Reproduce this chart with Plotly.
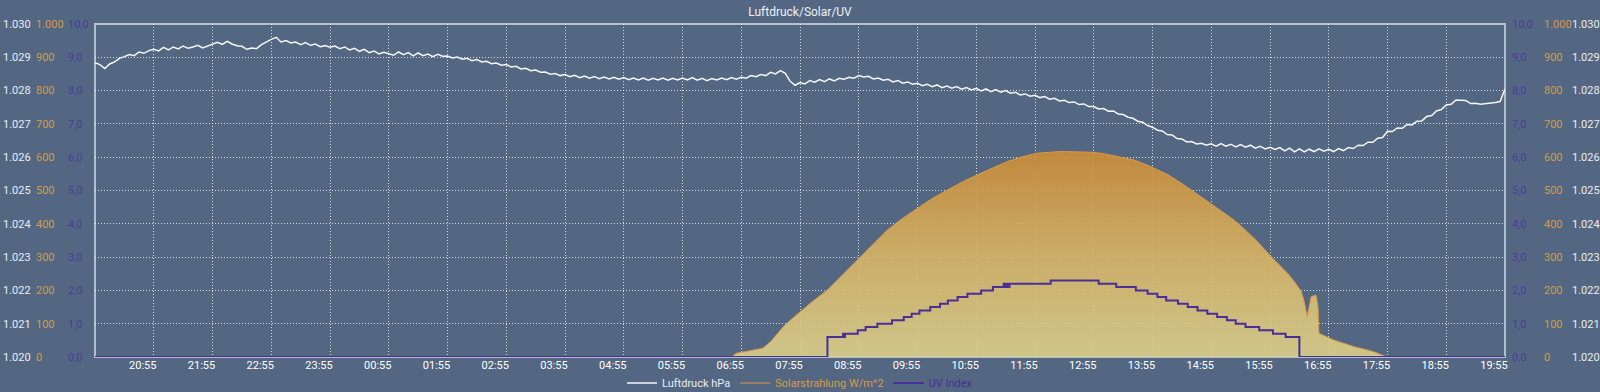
import pandas as pd
import plotly.graph_objects as go

# ---------------- data ----------------
D1 = "2024-06-20"
D2 = "2024-06-21"

# Luftdruck (hPa), every 5 minutes from 19:55 (day 1) to 19:55 (day 2)
pressure_start = f"{D1} 19:55"
pressure_hpa = [
    1028.84, 1028.78, 1028.66, 1028.80, 1028.86, 1028.97, 1029.02, 1029.08, 1029.05, 1029.16, 1029.12, 1029.20,
    1029.24, 1029.19, 1029.30, 1029.22, 1029.31, 1029.25, 1029.34, 1029.27, 1029.31, 1029.36, 1029.28, 1029.34,
    1029.38, 1029.45, 1029.39, 1029.48, 1029.40, 1029.35, 1029.33, 1029.24, 1029.28, 1029.26, 1029.38, 1029.47,
    1029.54, 1029.60, 1029.46, 1029.50, 1029.43, 1029.46, 1029.38, 1029.44, 1029.36, 1029.40, 1029.32, 1029.35,
    1029.30, 1029.34, 1029.26, 1029.31, 1029.22, 1029.27, 1029.18, 1029.24, 1029.14, 1029.19, 1029.10, 1029.15,
    1029.11, 1029.06, 1029.16, 1029.08, 1029.14, 1029.04, 1029.13, 1029.05, 1029.10, 1029.02, 1029.09, 1029.03,
    1029.04, 1028.98, 1029.01, 1028.94, 1028.97, 1028.90, 1028.93, 1028.86, 1028.88, 1028.81, 1028.83, 1028.76,
    1028.78, 1028.71, 1028.73, 1028.65, 1028.67, 1028.60, 1028.62, 1028.55, 1028.56, 1028.49, 1028.51, 1028.45,
    1028.48, 1028.42, 1028.46, 1028.39, 1028.44, 1028.37, 1028.42, 1028.36, 1028.41, 1028.35, 1028.40, 1028.34,
    1028.39, 1028.33, 1028.38, 1028.32, 1028.38, 1028.31, 1028.37, 1028.32, 1028.38, 1028.31, 1028.37, 1028.32,
    1028.38, 1028.32, 1028.39, 1028.31, 1028.37, 1028.30, 1028.36, 1028.32, 1028.38, 1028.33, 1028.39, 1028.34,
    1028.40, 1028.37, 1028.45, 1028.42, 1028.48, 1028.45, 1028.55, 1028.50, 1028.60, 1028.52, 1028.28, 1028.16,
    1028.24, 1028.20, 1028.30, 1028.25, 1028.33, 1028.27, 1028.35, 1028.29, 1028.37, 1028.34, 1028.40, 1028.37,
    1028.45, 1028.41, 1028.43, 1028.35, 1028.38, 1028.31, 1028.34, 1028.26, 1028.30, 1028.22, 1028.26, 1028.19,
    1028.22, 1028.15, 1028.19, 1028.12, 1028.17, 1028.09, 1028.14, 1028.07, 1028.12, 1028.04, 1028.09, 1028.02,
    1028.07, 1027.99, 1028.05, 1027.97, 1028.03, 1027.95, 1028.00, 1027.92, 1027.95, 1027.87, 1027.90, 1027.83,
    1027.86, 1027.79, 1027.82, 1027.74, 1027.77, 1027.69, 1027.71, 1027.64, 1027.66, 1027.58, 1027.60, 1027.52,
    1027.52, 1027.45, 1027.46, 1027.38, 1027.39, 1027.30, 1027.28, 1027.20, 1027.17, 1027.08, 1027.05, 1026.95,
    1026.90, 1026.81, 1026.79, 1026.68, 1026.67, 1026.56, 1026.55, 1026.46, 1026.47, 1026.40, 1026.42, 1026.36,
    1026.40, 1026.33, 1026.41, 1026.33, 1026.39, 1026.31, 1026.38, 1026.30, 1026.36, 1026.27, 1026.33, 1026.25,
    1026.30, 1026.23, 1026.29, 1026.19, 1026.27, 1026.16, 1026.25, 1026.16, 1026.24, 1026.17, 1026.25, 1026.18,
    1026.24, 1026.17, 1026.26, 1026.20, 1026.29, 1026.26, 1026.36, 1026.35, 1026.45, 1026.45, 1026.57, 1026.59,
    1026.78, 1026.77, 1026.88, 1026.87, 1026.98, 1026.97, 1027.08, 1027.09, 1027.22, 1027.25, 1027.39, 1027.43,
    1027.57, 1027.59, 1027.72, 1027.70, 1027.70, 1027.61, 1027.62, 1027.59, 1027.60, 1027.63, 1027.64, 1027.67,
    1028.05,
]

# Solarstrahlung (W/m^2)
solar_times = ["19:55", "06:45", "06:50", "07:02", "07:12", "07:17", "07:25", "07:38", "07:45", "07:52",
               "08:07", "08:23", "08:38", "08:54", "09:08", "09:24", "09:40", "09:55", "10:10", "10:26",
               "10:41", "10:56", "11:12", "11:27", "11:42", "11:57", "12:21", "12:37", "12:52", "13:02",
               "13:19", "13:36", "13:53", "14:11", "14:27", "14:44", "15:01", "15:18", "15:30", "15:42",
               "15:56", "16:05", "16:13", "16:20", "16:27", "16:30", "16:33", "16:35", "16:37", "16:42",
               "16:44", "16:45", "17:00", "17:21", "17:41", "17:54", "19:55"]
solar_days = [D1] + [D2] * (len(solar_times) - 1)
solar_wm2 = [0, 0, 11, 17, 22, 26, 46, 91, 110, 128,
             165, 201, 246, 291, 336, 381, 417, 447, 476, 502,
             526, 547, 568, 587, 601, 612, 617, 617, 615, 612,
             603, 592, 572, 547, 517, 482, 448, 412, 381, 347,
             302, 276, 251, 226, 196, 165, 121, 150, 181, 186,
             150, 71, 51, 31, 16, 0, 0]

# UV Index (step changes)
uv_times = ["19:55", "08:23", "08:39", "08:40", "08:41", "08:54", "09:02", "09:14", "09:29", "09:41",
            "09:49", "09:57", "10:08", "10:18", "10:26", "10:36", "10:46", "11:00", "11:12", "11:23",
            "11:24", "11:25", "11:26", "11:27", "11:28", "11:29", "12:11", "13:00", "13:18", "13:38",
            "13:50", "14:00", "14:09", "14:21", "14:31", "14:41", "14:51", "15:01", "15:11", "15:20",
            "15:30", "15:44", "15:58", "16:11", "16:25", "19:55"]
uv_days = [D1] + [D2] * (len(uv_times) - 1)
uv_index = [0.0, 0.6, 0.7, 0.6, 0.7, 0.8, 0.9, 1.0, 1.1, 1.2,
            1.3, 1.4, 1.5, 1.6, 1.7, 1.8, 1.9, 2.0, 2.1, 2.2,
            2.1, 2.2, 2.1, 2.2, 2.1, 2.2, 2.3, 2.2, 2.1, 2.0,
            1.9, 1.8, 1.7, 1.6, 1.5, 1.4, 1.3, 1.2, 1.1, 1.0,
            0.9, 0.8, 0.7, 0.6, 0.0, 0.0]

x_range = [f"{D1} 19:55", f"{D2} 19:55"]
tick_start, tick_end = f"{D1} 20:55", f"{D2} 19:55"

# ---------------- build ----------------
p_times = pd.date_range(pressure_start, periods=len(pressure_hpa), freq="5min")
s_times = pd.to_datetime([f"{d} {t}" for d, t in zip(solar_days, solar_times)])
u_times = pd.to_datetime([f"{d} {t}" for d, t in zip(uv_days, uv_times)])
tickvals = pd.date_range(tick_start, tick_end, freq="h")

BG = "#536783"
FONT = "Roboto, 'DejaVu Sans', sans-serif"
C_HPA = "#e9ecf1"
C_SOL = "#d99a45"
C_UV = "#4b2e97"
GRID = "rgba(255,255,255,0.75)"
GRIDDASH = "1px,2px"

fig = go.Figure()
fig.add_trace(go.Scatter(
    x=p_times, y=pressure_hpa, mode="lines", yaxis="y",
    line=dict(color="#f4f6f8", width=1.5),
    name=f'<span style="color:{C_HPA}">Luftdruck hPa</span>',
))
fig.add_trace(go.Scatter(
    x=s_times, y=solar_wm2, mode="lines", yaxis="y2",
    line=dict(color=C_SOL, width=0),
    fill="tozeroy",
    fillgradient=dict(type="vertical",
                      colorscale=[[0, "rgba(221,208,138,0.9)"], [0.5, "rgba(216,180,100,0.9)"],
                                  [1, "rgba(205,141,54,0.9)"]]),
    showlegend=False, hoverinfo="skip",
))
fig.add_trace(go.Scatter(
    x=s_times, y=solar_wm2, mode="lines", yaxis="y2",
    line=dict(color=C_SOL, width=1),
    name=f'<span style="color:{C_SOL}">Solarstrahlung W/m^2</span>',
))
fig.add_trace(go.Scatter(
    x=u_times, y=uv_index, mode="lines", yaxis="y3",
    line=dict(color=C_UV, width=2, shape="hv"),
    name=f'<span style="color:{C_UV}">UV Index</span>',
))
# mirror axes on the right side (no data)
for ax in ["y4", "y5", "y6"]:
    fig.add_trace(go.Scatter(x=[], y=[], yaxis=ax, showlegend=False, hoverinfo="skip"))

W = 1600.0
dom = [95 / W, 1505 / W]


def yax(rng, dtick, fmt, color, pos, overlay=None, grid=False):
    d = dict(range=rng, dtick=dtick, tick0=rng[0], tickformat=fmt, side="right",
             anchor="free", position=pos, showline=False, zeroline=False,
             showgrid=grid, ticks="", automargin=False,
             tickfont=dict(color=color, size=11, family=FONT), separatethousands=True)
    if grid:
        d.update(gridcolor=GRID, griddash=GRIDDASH, gridwidth=1)
    if overlay:
        d["overlaying"] = overlay
    return d


fig.update_layout(
    width=1600, height=392,
    margin=dict(l=0, r=0, t=24, b=35, autoexpand=False),
    paper_bgcolor=BG, plot_bgcolor=BG,
    separators=",.",
    font=dict(family=FONT, color="#ffffff", size=11),
    title=dict(text="Luftdruck/Solar/UV", x=0.5, xanchor="center", y=1 - 12 / 392, yanchor="middle",
               font=dict(size=12, color="#eef1f5", family=FONT)),
    xaxis=dict(domain=dom, type="date", range=x_range, tickvals=tickvals, tickformat="%H:%M",
               ticklabelshift=-11, ticks="", showgrid=True, gridcolor=GRID, griddash=GRIDDASH,
               gridwidth=1, showline=False, zeroline=False, automargin=False,
               tickfont=dict(color="#ffffff", size=11, family=FONT)),
    yaxis=yax([1020, 1030], 1, ",d", "#e9ecf1", 2 / W, grid=True),
    yaxis2=yax([0, 1000], 100, ",d", "#d49a4c", 35 / W, overlay="y"),
    yaxis3=yax([0, 10], 1, ".1f", "#4d3b9c", 67 / W, overlay="y"),
    yaxis4=yax([1020, 1030], 1, ",d", "#e9ecf1", 1571 / W, overlay="y"),
    yaxis5=yax([0, 1000], 100, ",d", "#d49a4c", 1543 / W, overlay="y"),
    yaxis6=yax([0, 10], 1, ".1f", "#4d3b9c", 1511 / W, overlay="y"),
    legend=dict(orientation="h", x=0.5, xanchor="center", y=-26 / 333, yanchor="middle",
                bgcolor="rgba(0,0,0,0)", font=dict(size=11, family=FONT), itemwidth=30,
                traceorder="normal"),
    shapes=[dict(type="rect", xref="paper", yref="paper", x0=dom[0], x1=dom[1], y0=0, y1=1,
                 line=dict(color="#b3bdcc", width=2), layer="below")],
    showlegend=True,
)

fig.write_html(
    "out.html",
    config={"displayModeBar": False},
    post_script="document.body.style.margin='0';document.body.style.padding='0';"
                "document.body.style.overflow='hidden';document.body.style.background='" + BG + "';",
)
